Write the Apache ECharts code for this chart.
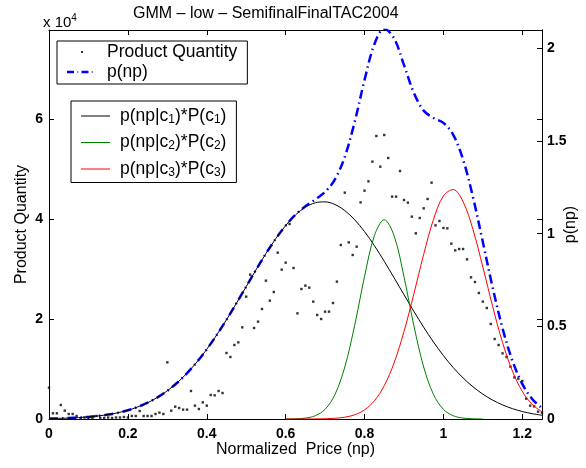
<!DOCTYPE html>
<html><head><meta charset="utf-8">
<script src="https://cdn.jsdelivr.net/npm/echarts@6/dist/echarts.min.js"></script>
<style>html,body{margin:0;padding:0;background:#fff}#c{width:586px;height:468px}</style>
</head><body><div id="c"></div>
<script>
// ---- data ----
const priceStep = 0.01;          // spacing of the Product Quantity samples (np)
const productQuantity = [
6260,1140,1140,2800,1670,1000,1000,600,100,300,
200,200,600,200,200,300,200,300,300,400,
300,600,600,1600,600,600,600,1000,1270,1000,
11330,1670,2470,2200,1870,1870,5600,2670,2000,3330,
2670,4800,4730,5600,5200,13200,12400,14800,15330,18330,
24470,28870,18200,19470,22000,27670,23670,25400,33270,29870,
31270,39000,30200,21130,26000,26670,26270,23470,20800,20000,
21470,21470,23200,27470,34800,45270,35330,32800,34470,43330,
45670,47530,51470,56600,50470,56800,52200,44470,44470,49600,
43800,43270,40470,37130,40200,42130,44000,47270,38730,39600,
38200,38130,35070,33730,34000,34000,31930,28330,27400,25200,
23470,22200,19000,16000,14800,13130,12400,10470,8330,8070,
7600,4070,2670,2530,1470,1270
];
const curveStep = 0.025;         // spacing of the density curve samples (np)
const pComp1 = [0.0021,0.0033,0.0050,0.0076,0.0113,0.0166,0.0239,0.0339,0.0473,0.0650,0.0877,0.1165,0.1522,0.1956,0.2473,0.3074,0.3761,0.4526,0.5357,0.6237,0.7145,0.8050,0.8924,0.9729,1.0434,1.1009,1.1426,1.1665,1.1714,1.1572,1.1246,1.0751,1.0110,0.9353,0.8510,0.7618,0.6709,0.5811,0.4951,0.4149,0.3421,0.2775,0.2214,0.1738,0.1342,0.1019,0.0761,0.0559,0.0404,0.0288,0.0201];
const pComp2 = [null,null,null,null,null,null,null,null,null,null,null,null,null,null,null,null,null,null,null,null,null,null,null,null,0.0002,0.0012,0.0050,0.0175,0.0523,0.1317,0.2805,0.5048,0.7683,0.9884,1.0750,0.9884,0.7683,0.5048,0.2805,0.1317,0.0523,0.0175,0.0050,0.0012,0.0002,null,null,null,null,null,null];
const pComp3 = [null,null,null,null,null,null,null,null,null,null,null,null,null,null,null,null,null,null,null,null,null,null,null,null,0.0000,0.0000,0.0001,0.0005,0.0014,0.0038,0.0097,0.0227,0.0492,0.0980,0.1796,0.3031,0.4711,0.6740,0.8881,1.0774,1.2034,1.2377,1.1721,1.0219,0.8205,0.6064,0.4127,0.2587,0.1493,0.0793,0.0388];
const pTotal = [0.0021,0.0033,0.0050,0.0076,0.0113,0.0166,0.0239,0.0339,0.0473,0.0650,0.0877,0.1165,0.1522,0.1956,0.2473,0.3074,0.3761,0.4526,0.5357,0.6237,0.7145,0.8050,0.8924,0.9729,1.0436,1.1021,1.1477,1.1845,1.2251,1.2927,1.4148,1.6026,1.8285,2.0217,2.1056,2.0533,1.9103,1.7599,1.6637,1.6240,1.5978,1.5327,1.3985,1.1969,0.9549,0.7083,0.4888,0.3146,0.1897,0.1081,0.0589];
const seriesNames = ['Product Quantity','p(np)','p(np|c1)*P(c1)','p(np|c2)*P(c2)','p(np|c3)*P(c3)'];
const xRange = [0, 1.25], xInterval = 0.2;
const qRange = [0, 77800], qInterval = 20000, qScale = 10000;
const pRange = [0, 2.0987], pInterval = 0.5;

// ---- build ----
const FONT = "'Liberation Sans', Arial, Helvetica, sans-serif";
function pairs(arr, step){ const out=[]; arr.forEach((v,i)=>{ if(v!==null) out.push([+(i*step).toFixed(4), v]); }); return out; }
const frame35 = 'M0,0M35,14';
const dotIcon = 'path://' + frame35 + 'M14,6L16,6L16,8L14,8Z';
const dashDotIcon = 'path://' + frame35 + 'M0,5.8L7,5.8L7,8.2L0,8.2Z M10,6.5L11.5,6.5L11.5,7.5L10,7.5Z M14.5,5.8L21.5,5.8L21.5,8.2L14.5,8.2Z M24.5,6.5L26,6.5L26,7.5L24.5,7.5Z';
const lineIcon = 'path://M0,0M34,14M0,6.5L29,6.5L29,7.5L0,7.5Z';

const axisCommon = {
  axisLine:{show:true,onZero:false,lineStyle:{color:'#000',width:1}},
  axisTick:{show:true,inside:true,length:5,lineStyle:{color:'#000',width:1}},
  splitLine:{show:false}
};
const labelStyle = {color:'#000',fontSize:14,fontWeight:'bold',fontFamily:FONT,showMaxLabel:false};
const nameStyle = {fontSize:16,color:'#000',fontFamily:FONT};

const chart = echarts.init(document.getElementById('c'), null, {renderer:'canvas'});
chart.setOption({
  animation:false,
  backgroundColor:'#fff',
  textStyle:{fontFamily:FONT,color:'#000'},
  title:{text:'GMM \u2013 low \u2013 SemifinalFinalTAC2004', left:133, top:0, padding:[6,0,0,0],
    textStyle:{fontSize:16,fontWeight:'normal',color:'#000',fontFamily:FONT}},
  graphic:[{type:'text', left:43, top:13, style:{text:'{a|x 10}{b|4}', rich:{
    a:{fontSize:15,fontFamily:FONT,fill:'#000',lineHeight:20},
    b:{fontSize:10,fontFamily:FONT,fill:'#000',lineHeight:10,verticalAlign:'top'}}}}],
  grid:{left:49,right:44,top:30,bottom:49,containLabel:false,outerBoundsMode:'none'},
  legend:[
    {data:[{name:seriesNames[0],icon:dotIcon},{name:seriesNames[1],icon:dashDotIcon}],
     orient:'vertical',left:57,top:41,padding:[2,10,3,10],itemWidth:35,itemHeight:14,itemGap:2,
     borderColor:'#000',borderWidth:1,backgroundColor:'#fff',selectedMode:false,
     itemStyle:{borderWidth:0},
     textStyle:{fontSize:17.5,color:'#000',fontFamily:FONT}},
    {data:[{name:seriesNames[2],icon:lineIcon},{name:seriesNames[3],icon:lineIcon},{name:seriesNames[4],icon:lineIcon}],
     orient:'vertical',left:71,top:101,padding:[6,10,4,10],itemWidth:34,itemHeight:14,itemGap:8,
     borderColor:'#000',borderWidth:1,backgroundColor:'#fff',selectedMode:false,
     itemStyle:{borderWidth:0},
     formatter:function(name){ const k=name.charAt(6); return '{m|p(np|c}{s|'+k+'}{m|)*P(c}{s|'+k+'}{m|)}'; },
     textStyle:{fontSize:17.5,color:'#000',fontFamily:FONT,rich:{
       m:{fontSize:17.5,fontFamily:FONT,color:'#000',lineHeight:19},
       s:{fontSize:12,fontFamily:FONT,color:'#000',lineHeight:8,verticalAlign:'bottom'}}}}
  ],
  xAxis:[
    Object.assign({type:'value',min:xRange[0],max:xRange[1],interval:xInterval,position:'bottom',
      axisLabel:Object.assign({margin:8,formatter:v=>String(+v.toFixed(2))},labelStyle),
      name:'Normalized  Price (np)',nameLocation:'middle',nameGap:23,nameMoveOverlap:false,
      nameTextStyle:nameStyle},axisCommon),
    Object.assign({type:'value',min:xRange[0],max:xRange[1],interval:xInterval,position:'top',
      axisLabel:{show:false}},axisCommon)
  ],
  yAxis:[
    Object.assign({type:'value',min:qRange[0],max:qRange[1],interval:qInterval,position:'left',
      axisLabel:Object.assign({margin:6,formatter:v=>String(v/qScale)},labelStyle),
      name:'Product Quantity',nameLocation:'middle',nameGap:19,nameRotate:90,nameMoveOverlap:false,
      nameTextStyle:nameStyle},axisCommon),
    Object.assign({type:'value',min:pRange[0],max:pRange[1],interval:pInterval,position:'right',
      axisLabel:Object.assign({margin:5,formatter:v=>String(+v.toFixed(2))},labelStyle),
      name:'p(np)',nameLocation:'middle',nameGap:21,nameRotate:90,nameMoveOverlap:false,
      nameTextStyle:nameStyle},axisCommon),
    Object.assign({type:'value',min:qRange[0],max:qRange[1],interval:qInterval,position:'right',
      axisLabel:{show:false}},axisCommon)
  ],
  series:[
    {name:seriesNames[0],type:'scatter',xAxisIndex:0,yAxisIndex:0,data:pairs(productQuantity,priceStep),
     symbol:'rect',symbolSize:2.4,color:'#000',itemStyle:{color:'#000'},z:3},
    {name:seriesNames[1],type:'line',xAxisIndex:0,yAxisIndex:1,data:pairs(pTotal,curveStep),smooth:0.35,
     symbol:'none',showSymbol:false,color:'#0000ff',itemStyle:{color:'#0000ff'},
     lineStyle:{color:'#0000ff',width:2.5,type:[9,4,1.5,4]},z:4},
    {name:seriesNames[2],type:'line',xAxisIndex:0,yAxisIndex:1,data:pairs(pComp1,curveStep),smooth:0.35,
     symbol:'none',showSymbol:false,color:'#000',itemStyle:{color:'#000'},lineStyle:{color:'#000',width:1},z:5},
    {name:seriesNames[3],type:'line',xAxisIndex:0,yAxisIndex:1,data:pairs(pComp2,curveStep),smooth:0.35,
     symbol:'none',showSymbol:false,color:'#008000',itemStyle:{color:'#008000'},lineStyle:{color:'#008000',width:1},z:5},
    {name:seriesNames[4],type:'line',xAxisIndex:0,yAxisIndex:1,data:pairs(pComp3,curveStep),smooth:0.35,
     symbol:'none',showSymbol:false,color:'#ff0000',itemStyle:{color:'#ff0000'},lineStyle:{color:'#ff0000',width:1},z:5}
  ]
});
</script></body></html>
